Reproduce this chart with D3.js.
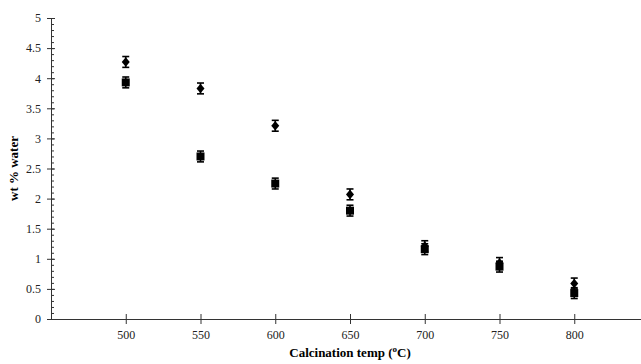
<!DOCTYPE html>
<html>
<head>
<meta charset="utf-8">
<script src="https://cdn.jsdelivr.net/npm/d3@7"></script>
<style>
  body { margin: 0; background: #fff; }
  svg { font-family: "Liberation Serif", "Times New Roman", serif; }
  .axis path, .axis line { stroke: #333; }
  .axis text { font-size: 12px; fill: #222; font-family: "Liberation Serif", "Times New Roman", serif; }
</style>
</head>
<body>
<div id="chart-area"></div>
<script>
// data
const temps = [500, 550, 600, 650, 700, 750, 800]
const diamondVals = [4.27, 3.83, 3.21, 2.07, 1.21, 0.93, 0.59]
const squareVals = [3.93, 2.70, 2.25, 1.80, 1.16, 0.87, 0.43]
const errVal = 0.09
const xTicks = [500, 550, 600, 650, 700, 750, 800]
const yTicks = [0, 0.5, 1, 1.5, 2, 2.5, 3, 3.5, 4, 4.5, 5]

const W = 641, H = 364
const MARGIN = {LEFT: 51, TOP: 18, RIGHT: 0, BOTTOM: 45}

const svg = d3.select("#chart-area").append("svg")
    .attr("width", W)
    .attr("height", H)

const x = d3.scaleLinear().domain([450, 850]).range([MARGIN.LEFT, 649])
const y = d3.scaleLinear().domain([0, 5]).range([H - MARGIN.BOTTOM, MARGIN.TOP])

// y axis: minor ticks (inside) then majors crossing the line
svg.append("g")
    .attr("class", "axis")
    .attr("transform", `translate(${MARGIN.LEFT},0)`)
    .call(d3.axisRight(y).tickValues(d3.range(0, 5.01, 0.1)).tickSize(3).tickFormat(""))
    .call(g => g.select(".domain").remove())

const yAxis = svg.append("g")
    .attr("class", "axis")
    .attr("transform", `translate(${MARGIN.LEFT},0)`)
    .call(d3.axisLeft(y).tickValues(yTicks).tickSize(4).tickSizeOuter(0).tickPadding(6)
        .tickFormat(d => String(d)))
yAxis.selectAll(".tick line").attr("x2", 4).attr("x1", -4)

// x axis, ticks crossing the line
const xAxis = svg.append("g")
    .attr("class", "axis")
    .attr("transform", `translate(0,${y(0)})`)
    .call(d3.axisBottom(x).tickValues(xTicks).tickSize(5).tickSizeOuter(0).tickPadding(6)
        .tickFormat(d => String(d)))
xAxis.selectAll(".tick line").attr("y1", -5).attr("y2", 5)

// error bars + markers
function drawSeries(vals, shape) {
    const pts = temps.map((t, i) => ({t: t, v: vals[i]}))
    const grp = svg.append("g")
    const eb = grp.selectAll(".eb").data(pts).enter().append("g")
        .attr("stroke", "#000").attr("stroke-width", 1.6)
    eb.append("line")
        .attr("x1", d => x(d.t)).attr("x2", d => x(d.t))
        .attr("y1", d => y(d.v - errVal)).attr("y2", d => y(d.v + errVal))
    eb.append("line")
        .attr("x1", d => x(d.t) - 3.5).attr("x2", d => x(d.t) + 3.5)
        .attr("y1", d => y(d.v + errVal)).attr("y2", d => y(d.v + errVal))
    eb.append("line")
        .attr("x1", d => x(d.t) - 3.5).attr("x2", d => x(d.t) + 3.5)
        .attr("y1", d => y(d.v - errVal)).attr("y2", d => y(d.v - errVal))
    grp.selectAll(".pt").data(pts).enter().append("path")
        .attr("transform", d => `translate(${x(d.t)},${y(d.v)})`)
        .attr("d", shape)
        .attr("fill", "#000")
}
drawSeries(squareVals, "M-4,-4H4V4H-4Z")
drawSeries(diamondVals, "M0,-4.8L4,0L0,4.8L-4,0Z")

// axis labels
svg.append("text")
    .attr("x", 350)
    .attr("y", 357)
    .attr("text-anchor", "middle")
    .attr("font-size", "13px")
    .attr("font-weight", "bold")
    .call(t => {
        t.append("tspan").text("Calcination temp (")
        t.append("tspan").attr("font-size", "9px").attr("dy", -5).text("o")
        t.append("tspan").attr("dy", 5).text("C)")
    })

svg.append("text")
    .attr("transform", `translate(18,${(y(0) + y(5)) / 2}) rotate(-90)`)
    .attr("text-anchor", "middle")
    .attr("font-size", "13px")
    .attr("font-weight", "bold")
    .text("wt % water")
</script>
</body>
</html>
